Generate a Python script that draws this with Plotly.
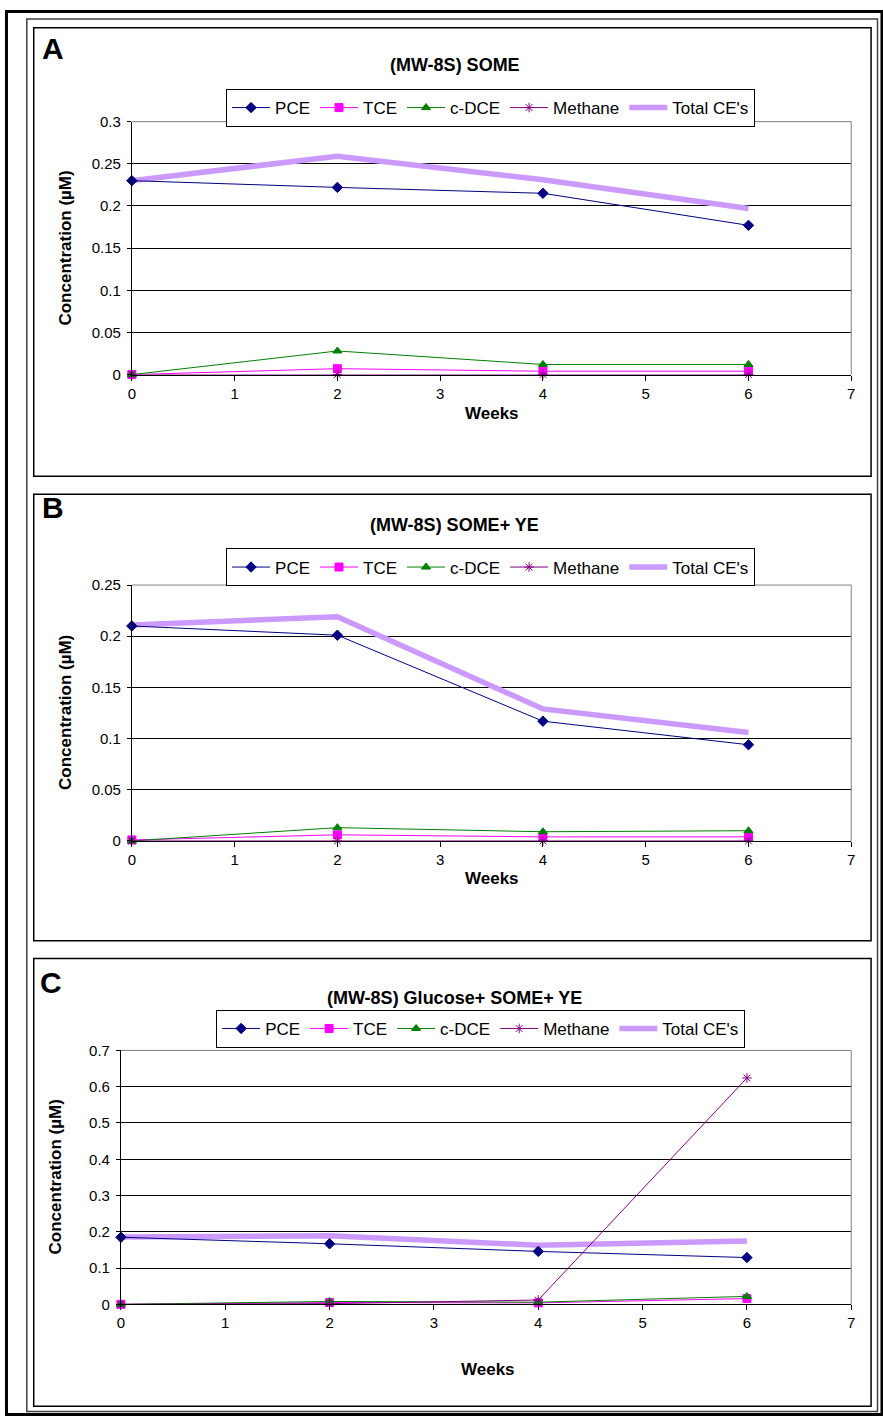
import plotly.graph_objects as go

W, H = 883, 1425

weeks = [0, 2, 4, 6]
series_names = ["PCE", "TCE", "c-DCE", "Methane", "Total CE's"]

# Panel A: (MW-8S) SOME
a_pce = [0.230, 0.222, 0.215, 0.177]
a_tce = [0.000, 0.007, 0.004, 0.004]
a_cdce = [0.000, 0.028, 0.012, 0.012]
a_methane = [0.000, 0.000, 0.000, 0.000]
a_total = [0.230, 0.259, 0.231, 0.197]

# Panel B: (MW-8S) SOME+ YE
b_pce = [0.210, 0.201, 0.117, 0.094]
b_tce = [0.001, 0.006, 0.004, 0.004]
b_cdce = [0.000, 0.013, 0.009, 0.010]
b_methane = [0.000, 0.000, 0.000, 0.000]
b_total = [0.211, 0.219, 0.129, 0.106]

# Panel C: (MW-8S) Glucose+ SOME+ YE
c_pce = [0.185, 0.167, 0.146, 0.129]
c_tce = [0.000, 0.005, 0.004, 0.016]
c_cdce = [0.000, 0.008, 0.006, 0.022]
c_methane = [0.000, 0.002, 0.012, 0.624]
c_total = [0.186, 0.189, 0.163, 0.175]

titles = ["(MW-8S) SOME", "(MW-8S) SOME+ YE", "(MW-8S) Glucose+ SOME+ YE"]
letters = ["A", "B", "C"]
y_ranges = [[0, 0.3], [0, 0.25], [0, 0.7]]
y_dticks = [0.05, 0.05, 0.1]
x_ticks = [0, 1, 2, 3, 4, 5, 6, 7]

panels = [
    [a_pce, a_tce, a_cdce, a_methane, a_total],
    [b_pce, b_tce, b_cdce, b_methane, b_total],
    [c_pce, c_tce, c_cdce, c_methane, c_total],
]

colors = ["#000080", "#FF00FF", "#008000", "#800080", "#CC99FF"]
symbols = ["diamond", "square", "triangle-up", "asterisk-open", None]

FONT = "Liberation Sans, Arial, sans-serif"


def px(v):
    return v / W


def py(v):
    return 1 - v / H


# pixel layout of each panel
plot_px = [
    dict(x0=129, x1=855, ytop=114, ybot=370),
    dict(x0=129, x1=855, ytop=583, ybot=842),
    dict(x0=118, x1=855, ytop=1054, ybot=1311),
]
panel_box = [(30, 19, 875, 473), (30, 491, 875, 943), (30, 961, 875, 1414)]
legend_pos = [(491, 81), (491, 546), (481, 1013)]
title_pos = [(455, 57), (455, 522), (455, 1001)]
letter_pos = [(49, 40), (49, 505), (47, 985)]
weeks_pos = [(492, 409), (492, 880), (488, 1377)]
ylab_pos = [(62, 242), (62, 712), (52, 1182)]

fig = go.Figure()
layout = dict(
    width=W, height=H,
    margin=dict(l=0, r=0, t=0, b=0),
    paper_bgcolor="white", plot_bgcolor="white",
    showlegend=True,
    font=dict(family=FONT, color="black", size=14),
)
annotations = []
shapes = []

for i, data in enumerate(panels):
    k = "" if i == 0 else str(i + 1)
    xa, ya = "x" + k, "y" + k
    leg = "legend" + k
    # draw Total first (underneath), legend order via legendrank
    order = [4, 0, 1, 2, 3]
    for j in order:
        vals = data[j]
        if j == 4:
            tr = go.Scatter(x=weeks, y=vals, mode="lines", name=series_names[j],
                            line=dict(color=colors[j], width=5.5),
                            xaxis=xa, yaxis=ya, legend=leg, legendrank=j + 1,
                            cliponaxis=False)
        else:
            msize = 8
            tr = go.Scatter(x=weeks, y=vals, mode="lines+markers", name=series_names[j],
                            line=dict(color=colors[j], width=1),
                            marker=dict(symbol=symbols[j], size=msize, color=colors[j],
                                        line=dict(color=colors[j], width=1)),
                            xaxis=xa, yaxis=ya, legend=leg, legendrank=j + 1,
                            cliponaxis=False)
        fig.add_trace(tr)

    p = plot_px[i]
    layout["xaxis" + k] = dict(
        domain=[px(p["x0"]), px(p["x1"])], range=[0, 7], anchor=ya,
        tickmode="array", tickvals=x_ticks, ticktext=[str(t) for t in x_ticks],
        showline=True, linecolor="black", linewidth=1,
        ticks="outside", ticklen=5, tickcolor="black",
        showgrid=False, zeroline=False,
        tickfont=dict(family=FONT, size=15, color="black"),
        fixedrange=True,
    )
    layout["yaxis" + k] = dict(
        domain=[py(p["ybot"]), py(p["ytop"])], range=y_ranges[i], anchor=xa,
        dtick=y_dticks[i], tick0=0,
        showline=True, linecolor="black", linewidth=1,
        ticks="outside", ticklen=4, tickcolor="black",
        showgrid=True, gridcolor="black", gridwidth=1, zeroline=False,
        tickfont=dict(family=FONT, size=15, color="black"),
        ticklabelstandoff=3,
        fixedrange=True,
    )
    lx, ly = legend_pos[i]
    layout[leg] = dict(
        orientation="h", x=px(lx), y=py(ly), xanchor="center", yanchor="top",
        xref="paper", yref="paper",
        bordercolor="black", borderwidth=1, bgcolor="white",
        font=dict(family=FONT, size=17, color="black"),
        itemwidth=38, tracegroupgap=0,
    )
    # plot area top/right gray border
    shapes.append(dict(type="line", xref=xa + " domain", yref=ya + " domain",
                       x0=0, x1=1, y0=1, y1=1, line=dict(color="#808080", width=1), layer="above"))
    shapes.append(dict(type="line", xref=xa + " domain", yref=ya + " domain",
                       x0=1, x1=1, y0=0, y1=1, line=dict(color="#808080", width=1), layer="above"))
    # panel box
    bx0, by0, bx1, by1 = panel_box[i]
    shapes.append(dict(type="rect", xref="paper", yref="paper",
                       x0=px(bx0), x1=px(bx1), y0=py(by0), y1=py(by1),
                       line=dict(color="black", width=1.5), layer="below"))
    tx, ty = title_pos[i]
    annotations.append(dict(text="<b>" + titles[i] + "</b>", x=px(tx), y=py(ty),
                            xref="paper", yref="paper", showarrow=False,
                            xanchor="center", yanchor="middle",
                            font=dict(family=FONT, size=18, color="black")))
    lx2, ly2 = letter_pos[i]
    annotations.append(dict(text="<b>" + letters[i] + "</b>", x=px(lx2), y=py(ly2),
                            xref="paper", yref="paper", showarrow=False,
                            xanchor="center", yanchor="middle",
                            font=dict(family=FONT, size=30, color="black")))
    wx, wy = weeks_pos[i]
    annotations.append(dict(text="<b>Weeks</b>", x=px(wx), y=py(wy),
                            xref="paper", yref="paper", showarrow=False,
                            xanchor="center", yanchor="middle",
                            font=dict(family=FONT, size=17, color="black")))
    cx, cy = ylab_pos[i]
    annotations.append(dict(text="<b>Concentration (µM)</b>", x=px(cx), y=py(cy),
                            xref="paper", yref="paper", showarrow=False, textangle=-90,
                            xanchor="center", yanchor="middle",
                            font=dict(family=FONT, size=17, color="black")))

# outer frames
shapes.append(dict(type="rect", xref="paper", yref="paper",
                   x0=px(2.5), x1=px(886), y0=py(2.5), y1=py(1422.5),
                   line=dict(color="black", width=3), layer="below"))
shapes.append(dict(type="rect", xref="paper", yref="paper",
                   x0=px(23), x1=px(881.5), y0=py(10), y1=py(1419.5),
                   line=dict(color="#404040", width=1.5), layer="below"))

layout["annotations"] = annotations
layout["shapes"] = shapes
fig.update_layout(**layout)
fig.write_html(
    "out.html",
    config={"displayModeBar": False, "staticPlot": True},
    post_script="document.body.style.margin='0';document.body.style.padding='0';"
                "document.body.style.overflow='hidden';",
)
